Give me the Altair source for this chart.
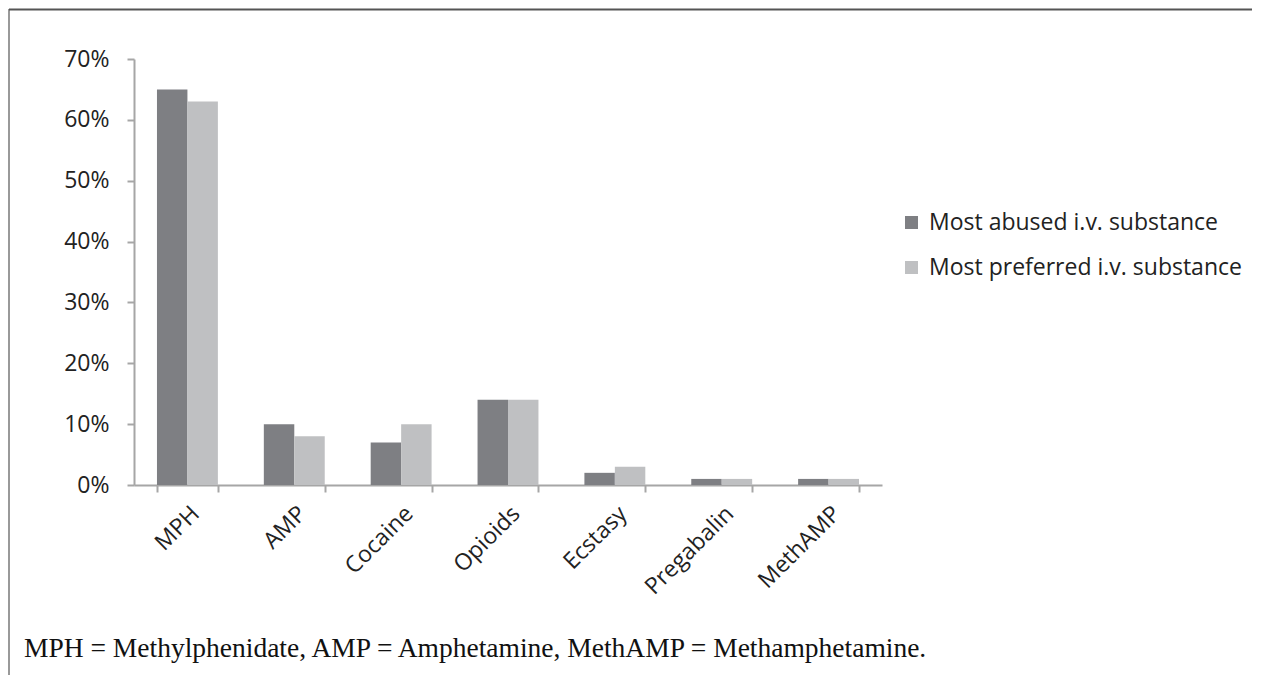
import altair as alt
import pandas as pd

categories = ["MPH", "AMP", "Cocaine", "Opioids", "Ecstasy", "Pregabalin", "MethAMP"]
series_names = ["Most abused i.v. substance", "Most preferred i.v. substance"]
most_abused = [0.65, 0.10, 0.07, 0.14, 0.02, 0.01, 0.01]
most_preferred = [0.63, 0.08, 0.10, 0.14, 0.03, 0.01, 0.01]
footnote = ["MPH = Methylphenidate, AMP = Amphetamine, MethAMP = Methamphetamine."]
colors = ["#7e7f83", "#bfc0c2"]

rows = []
for c, a, p in zip(categories, most_abused, most_preferred):
    rows.append({"cat": c, "series": series_names[0], "value": a})
    rows.append({"cat": c, "series": series_names[1], "value": p})
df = pd.DataFrame(rows)

W, H = 748, 426
PAD_L, PAD_T, PAD_R, PAD_B = 126, 51, 370, 190
FONT = "Open Sans"
FS = 23

bars = alt.Chart(df).mark_bar().encode(
    x=alt.X("cat:N", sort=categories, title=None,
            scale=alt.Scale(paddingInner=0.43, paddingOuter=0.215),
            axis=alt.Axis(labelAngle=-45, tickBand="extent", labelFont=FONT,
                          labelFontSize=FS, labelColor="#222222", labelPadding=10,
                          domainColor="#a6a6a6", domainWidth=2, tickColor="#a6a6a6",
                          tickWidth=2, tickSize=7)),
    xOffset=alt.XOffset("series:N", sort=series_names),
    y=alt.Y("value:Q", title=None,
            scale=alt.Scale(domain=[0, 0.7]),
            axis=alt.Axis(format=".0%", values=[0, 0.1, 0.2, 0.3, 0.4, 0.5, 0.6, 0.7],
                          grid=False, labelFont=FONT, labelFontSize=FS,
                          labelColor="#222222", labelPadding=18,
                          domainColor="#a6a6a6", domainWidth=2, tickColor="#a6a6a6",
                          tickWidth=2, tickSize=7)),
    color=alt.Color("series:N", sort=series_names,
                    scale=alt.Scale(domain=series_names, range=colors),
                    legend=alt.Legend(title=None, orient="none", legendX=766, legendY=152,
                                      symbolType="square", symbolSize=170,
                                      symbolStrokeWidth=0, labelFont=FONT,
                                      labelFontSize=FS, labelColor="#222222",
                                      labelLimit=0, rowPadding=21, labelOffset=6)),
)

note = alt.Chart(pd.DataFrame({"t": footnote})).mark_text(
    align="left", baseline="alphabetic", font="Liberation Serif", fontSize=27.5,
    color="#111111"
).encode(x=alt.value(-110), y=alt.value(598), text="t:N")

border_top = alt.Chart(pd.DataFrame({"k": [0]})).mark_rule(
    color="#555555", strokeWidth=2
).encode(x=alt.value(-125), x2=alt.value(PAD_R + W),
         y=alt.value(-49.5), y2=alt.value(-49.5))

border_left = alt.Chart(pd.DataFrame({"k": [0]})).mark_rule(
    color="#555555", strokeWidth=1.2
).encode(x=alt.value(-125), x2=alt.value(-125),
         y=alt.value(-50), y2=alt.value(H + PAD_B))

chart = alt.layer(bars, note, border_top, border_left).properties(
    width=W, height=H,
    autosize=alt.AutoSizeParams(type="none"),
    padding={"left": PAD_L, "top": PAD_T, "right": PAD_R, "bottom": PAD_B},
).configure_view(stroke=None)

chart.save("out.html", embed_options={"renderer": "svg", "actions": False})
